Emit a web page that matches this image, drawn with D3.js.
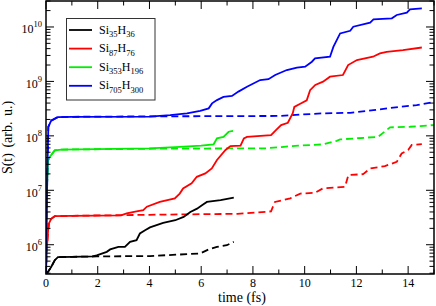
<!DOCTYPE html>
<html>
<head>
<meta charset="utf-8">
<script src="https://cdn.jsdelivr.net/npm/d3@7"></script>
<style>
  body { margin: 0; background: #fff; }
</style>
</head>
<body>
<svg id="chart" width="436" height="306"></svg>
<script>
// [time (fs), S(t)]
const si35Solid = [[0, 2.9e5], [0.08, 3.2e5], [0.2, 3.9e5], [0.34, 5.2e5], [0.46, 5.9e5], [1, 6.0e5], [1.8, 6.1e5], [1.96, 6.4e5], [2.35, 7.4e5], [2.48, 8.2e5], [2.8, 9.1e5], [3.05, 9.1e5], [3.25, 1.13e6], [3.5, 1.21e6], [3.63, 1.61e6], [3.83, 1.85e6], [4.02, 2.08e6], [4.53, 2.52e6], [5.0, 2.82e6], [5.32, 3.25e6], [5.58, 4.0e6], [5.84, 4.6e6], [6.03, 5.3e6], [6.22, 6.1e6], [6.75, 6.6e6], [7.26, 7.3e6]];
const si35Dashed = [[0, 2.9e5], [0.08, 3.2e5], [0.2, 3.9e5], [0.34, 5.2e5], [0.46, 5.9e5], [1, 6.0e5], [1.96, 6.1e5], [4.02, 6.2e5], [5.96, 6.9e5], [6.29, 8.2e5], [6.61, 9.1e5], [6.99, 9.8e5], [7.26, 1.13e6]];

const si87Solid = [[0, 2.9e5], [0.03, 8e5], [0.08, 1.8e6], [0.12, 2.5e6], [0.2, 3.0e6], [0.34, 3.35e6], [1, 3.4e6], [2.9, 3.45e6], [3.12, 3.76e6], [3.5, 4.1e6], [3.76, 4.3e6], [3.9, 5.0e6], [4.4, 6.1e6], [4.98, 7.1e6], [5.17, 8.7e6], [5.3, 1.08e7], [5.63, 1.34e7], [5.83, 1.77e7], [6.16, 2.04e7], [6.41, 2.52e7], [6.61, 3.6e7], [6.94, 5.5e7], [7.13, 6.5e7], [7.52, 6.6e7], [7.65, 9.0e7], [7.77, 9.6e7], [8.7, 1.03e8], [8.89, 1.28e8], [9.09, 1.58e8], [9.35, 1.74e8], [9.54, 2.6e8], [9.6, 3.4e8], [9.83, 3.9e8], [10.08, 4.5e8], [10.21, 6.9e8], [10.41, 8.6e8], [10.71, 9.9e8], [10.98, 1.22e9], [11.48, 1.31e9], [11.68, 2.0e9], [12.02, 2.47e9], [12.64, 2.84e9], [12.91, 3.27e9], [13.17, 3.5e9], [13.8, 3.77e9], [14.53, 4.2e9]];
const si87Dashed = [[0, 2.9e5], [0.03, 8e5], [0.08, 1.8e6], [0.12, 2.5e6], [0.2, 3.0e6], [0.34, 3.35e6], [1, 3.4e6], [4, 3.55e6], [7.4, 3.7e6], [8.7, 4.1e6], [8.85, 6.1e6], [9.44, 7.1e6], [9.83, 8.7e6], [10.4, 9.0e6], [10.7, 1.08e7], [11.56, 1.16e7], [11.69, 1.9e7], [12.26, 1.98e7], [12.53, 2.52e7], [13.1, 2.78e7], [13.56, 3.33e7], [13.75, 4.75e7], [14.0, 5.5e7], [14.14, 6.8e7], [14.53, 7.05e7]];

const si353Solid = [[0, 2.9e5], [0.04, 1.3e7], [0.08, 3.5e7], [0.14, 4.1e7], [0.34, 5.4e7], [0.6, 5.6e7], [2, 5.7e7], [4, 5.9e7], [5, 6.2e7], [6, 6.6e7], [6.48, 7.0e7], [6.61, 9.0e7], [6.86, 9.6e7], [7.06, 1.19e8], [7.23, 1.24e8]];
const si353Dashed = [[0, 2.9e5], [0.04, 1.3e7], [0.08, 3.5e7], [0.14, 4.1e7], [0.34, 5.4e7], [0.6, 5.6e7], [4, 5.8e7], [8.5, 5.9e7], [9.2, 6.3e7], [9.75, 6.6e7], [10.7, 6.97e7], [11.24, 8.1e7], [11.37, 8.6e7], [12.84, 9.6e7], [13.17, 1.28e8], [13.3, 1.43e8], [14.07, 1.47e8], [15, 1.58e8]];

const si705Solid = [[0, 2.9e5], [0.05, 2e7], [0.09, 1.47e8], [0.2, 1.9e8], [0.45, 2.2e8], [1, 2.24e8], [4, 2.25e8], [4.8, 2.4e8], [5.45, 2.59e8], [5.96, 2.89e8], [6.29, 3.2e8], [6.42, 3.95e8], [6.61, 4.54e8], [6.86, 5.2e8], [7.19, 5.4e8], [7.44, 6.5e8], [7.77, 8.0e8], [8.28, 1.06e9], [8.6, 1.1e9], [8.86, 1.31e9], [9.31, 1.62e9], [9.7, 1.8e9], [10.02, 1.86e9], [10.28, 2.3e9], [10.4, 2.65e9], [10.98, 2.84e9], [11.11, 4.3e9], [11.37, 7.6e9], [11.76, 8.5e9], [11.88, 1.01e10], [12.53, 1.2e10], [12.66, 1.38e10], [13.37, 1.44e10], [13.56, 1.66e10], [13.95, 1.83e10], [14.07, 2.11e10], [14.53, 2.2e10]];
const si705Dashed = [[0, 2.9e5], [0.05, 2e7], [0.09, 1.47e8], [0.2, 1.9e8], [0.45, 2.2e8], [1, 2.24e8], [4, 2.28e8], [9, 2.32e8], [9.44, 2.4e8], [10.7, 2.59e8], [11.76, 2.65e8], [12.66, 2.97e8], [13.69, 3.42e8], [14.33, 3.67e8], [15, 4.2e8]];

const legendNames = [["Si", "35", "H", "36"], ["Si", "87", "H", "76"], ["Si", "353", "H", "196"], ["Si", "705", "H", "300"]];
const colors = ["#000000", "#ff0000", "#00ee00", "#0000ff"];
const xTicks = [0, 2, 4, 6, 8, 10, 12, 14];
const yDecades = [6, 7, 8, 9, 10];

const series = [
  { solid: si35Solid, dashed: si35Dashed },
  { solid: si87Solid, dashed: si87Dashed },
  { solid: si353Solid, dashed: si353Dashed },
  { solid: si705Solid, dashed: si705Dashed }
];

const PLOT = { left: 46, right: 434, top: 1, bottom: 274 };
const MAJOR = 8;
const MINOR = 4.5;
const FONT_SIZE = 12;
const SUB_SIZE = 8.5;
const TITLE_SIZE = 14;
const FONT = "'Liberation Serif', 'DejaVu Serif', serif";

const svg = d3.select("#chart").attr("font-family", FONT);

const x = d3.scaleLinear().domain([0, 15]).range([PLOT.left, PLOT.right]);
const y = d3.scaleLog().domain([2.9e5, 3e10]).range([PLOT.bottom, PLOT.top]);

svg.append("clipPath").attr("id", "clip")
  .append("rect")
  .attr("x", PLOT.left).attr("y", PLOT.top)
  .attr("width", PLOT.right - PLOT.left).attr("height", PLOT.bottom - PLOT.top);

// Curves
const line = d3.line().x(d => x(d[0])).y(d => y(d[1]));
const curves = svg.append("g").attr("clip-path", "url(#clip)");
series.forEach((s, i) => {
  curves.append("path")
    .datum(s.dashed)
    .attr("fill", "none")
    .attr("stroke", colors[i])
    .attr("stroke-width", 1.8)
    .attr("stroke-dasharray", "7,4")
    .attr("d", line);
});
series.forEach((s, i) => {
  curves.append("path")
    .datum(s.solid)
    .attr("fill", "none")
    .attr("stroke", colors[i])
    .attr("stroke-width", 1.8)
    .attr("d", line);
});

// Ticks, drawn inward on all four sides
const ticks = svg.append("g").attr("stroke", "#000").attr("stroke-width", 1);
d3.range(0, 16).forEach(t => {
  const len = t % 2 === 0 ? MAJOR : MINOR;
  ticks.append("line").attr("x1", x(t)).attr("x2", x(t)).attr("y1", PLOT.bottom).attr("y2", PLOT.bottom - len);
  ticks.append("line").attr("x1", x(t)).attr("x2", x(t)).attr("y1", PLOT.top).attr("y2", PLOT.top + len);
});
const yTickValues = [];
for (let e = 5; e <= 10; e++) {
  for (let m = 1; m <= 9; m++) {
    const v = m * Math.pow(10, e);
    if (v >= 2.9e5 && v <= 3e10) yTickValues.push({ v, major: m === 1 });
  }
}
yTickValues.forEach(d => {
  const len = d.major ? MAJOR : MINOR;
  ticks.append("line").attr("x1", PLOT.left).attr("x2", PLOT.left + len).attr("y1", y(d.v)).attr("y2", y(d.v));
  ticks.append("line").attr("x1", PLOT.right).attr("x2", PLOT.right - len).attr("y1", y(d.v)).attr("y2", y(d.v));
});

// Frame
svg.append("rect")
  .attr("x", PLOT.left).attr("y", PLOT.top)
  .attr("width", PLOT.right - PLOT.left).attr("height", PLOT.bottom - PLOT.top)
  .attr("fill", "none").attr("stroke", "#000").attr("stroke-width", 1.5);

// Tick labels
svg.append("g").selectAll("text").data(xTicks).join("text")
  .attr("x", d => x(d)).attr("y", PLOT.bottom + 13)
  .attr("text-anchor", "middle").attr("font-size", FONT_SIZE)
  .text(d => d);

const yLabels = svg.append("g").selectAll("text").data(yDecades).join("text")
  .attr("x", 42).attr("y", d => y(Math.pow(10, d)) + 6.5)
  .attr("text-anchor", "end").attr("font-size", FONT_SIZE);
yLabels.append("tspan").text("10");
yLabels.append("tspan").attr("dy", -6).attr("font-size", SUB_SIZE).text(d => d);

// Axis titles
svg.append("text")
  .attr("x", (PLOT.left + PLOT.right) / 2 + 2).attr("y", 302)
  .attr("text-anchor", "middle").attr("font-size", TITLE_SIZE)
  .text("time (fs)");
svg.append("text")
  .attr("transform", `translate(12, ${(PLOT.top + PLOT.bottom) / 2}) rotate(-90)`)
  .attr("text-anchor", "middle").attr("font-size", TITLE_SIZE)
  .attr("word-spacing", 2)
  .text("S(t) (arb. u.)");

// Legend
const legend = svg.append("g");
legend.append("rect")
  .attr("x", 66.5).attr("y", 18.5).attr("width", 88.5).attr("height", 81.5)
  .attr("fill", "#fff").attr("stroke", "#333").attr("stroke-width", 1);
legendNames.forEach((parts, i) => {
  const ly = 30 + i * 18.6;
  legend.append("line")
    .attr("x1", 69).attr("x2", 92).attr("y1", ly).attr("y2", ly)
    .attr("stroke", colors[i]).attr("stroke-width", 1.8);
  const t = legend.append("text").attr("x", 99).attr("y", ly + 3.5).attr("font-size", FONT_SIZE);
  t.append("tspan").text(parts[0]);
  t.append("tspan").attr("dy", 3.5).attr("font-size", SUB_SIZE).text(parts[1]);
  t.append("tspan").attr("dy", -3.5).text(parts[2]);
  t.append("tspan").attr("dy", 3.5).attr("font-size", SUB_SIZE).text(parts[3]);
});
</script>
</body>
</html>
